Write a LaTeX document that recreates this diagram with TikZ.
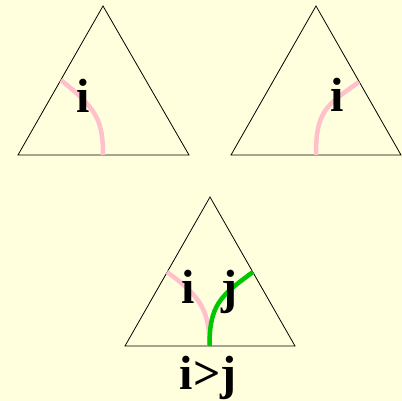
\documentclass[tikz,border=0pt]{standalone}
\usepackage{fontspec}
\setmainfont{Liberation Serif}
\definecolor{bgyellow}{HTML}{FFFFDD}
\definecolor{strandpink}{HTML}{FFC0CB}
\definecolor{strandgreen}{HTML}{00C800}
\begin{document}
\begin{tikzpicture}[x=1pt, y=-1pt,
    tri/.style={draw=black, line width=0.8pt},
    pinkstrand/.style={draw=strandpink, line width=4.5pt},
    greenstrand/.style={draw=strandgreen, line width=4.5pt},
    lbl/.style={font=\fontsize{48}{48}\selectfont\bfseries, inner sep=0pt, anchor=base}]
            \useasboundingbox[fill=bgyellow] (0,0) rectangle (402,401);

            \coordinate (topA) at (103,6);
            \coordinate (leftA) at (18,155);
            \coordinate (rightA) at (189,155);
            \coordinate (topB) at (316,6);
            \coordinate (leftB) at (231,155);
            \coordinate (rightB) at (401,155);
            \coordinate (topC) at (210,197);
            \coordinate (leftC) at (125,346);
            \coordinate (rightC) at (295,346);

            \draw[tri] (topA) -- (leftA) -- (rightA) -- cycle;
            \draw[tri] (topB) -- (leftB) -- (rightB) -- cycle;
            \draw[tri] (topC) -- (leftC) -- (rightC) -- cycle;

            \coordinate (inA) at (61,80);
            \coordinate (outA) at (103,155);
            \coordinate (inB) at (359,82);
            \coordinate (outB) at (316,155);
            \coordinate (inCi) at (167,272);
            \coordinate (inCj) at (253,272);
            \coordinate (outC) at (209.5,346);

            \draw[pinkstrand] (inA) .. controls (95,108) and (103,118) .. (outA);
            \draw[pinkstrand] (inB) .. controls (325,106) and (316,112) .. (outB);
            \draw[pinkstrand] (inCi) .. controls (200,296) and (209.5,310) .. (outC);
            \draw[greenstrand] (inCj) .. controls (220,296) and (209.5,305) .. (outC);

            \node[lbl] (iA) at (83,113) {i};
            \node[lbl] (iB) at (337,112) {i};
            \node[lbl] (iC) at (188,303) {i};
            \node[lbl] (jC) at (229,303) {j};
            \node[lbl] (order) at (208,389) {i>j};
\end{tikzpicture}
\end{document}
